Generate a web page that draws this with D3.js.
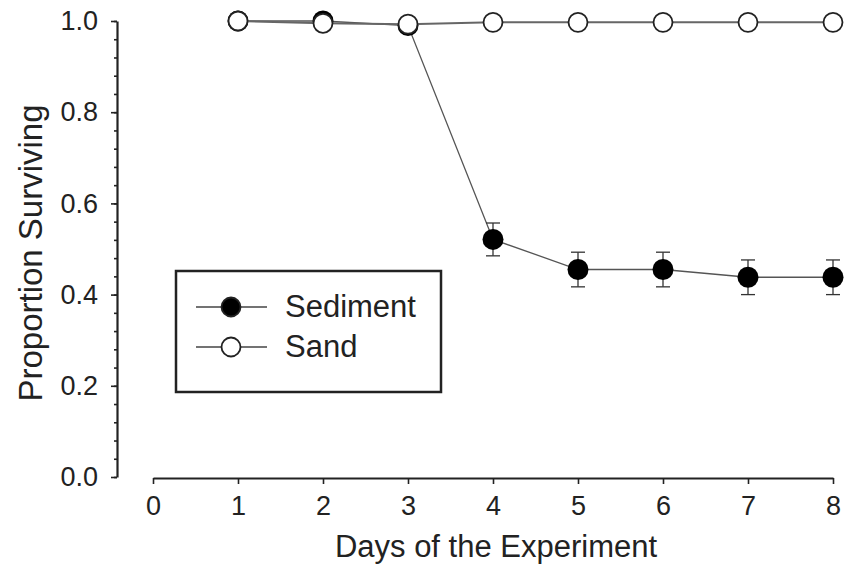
<!DOCTYPE html>
<html>
<head>
<meta charset="utf-8">
<script src="https://cdn.jsdelivr.net/npm/d3@7"></script>
<style>
  body { margin: 0; background: #fff; }
  svg { display: block; }
  text { font-family: "Liberation Sans", Arial, sans-serif; fill: #222; }
</style>
</head>
<body>
<script>
// data
var days = [1, 2, 3, 4, 5, 6, 7, 8];
var sediment = [1.0, 1.0, 0.99, 0.521, 0.455, 0.455, 0.438, 0.438];
var sedimentErr = [0, 0, 0, 0.036, 0.038, 0.038, 0.038, 0.038];
var sand = [1.0, 0.995, 0.993, 0.997, 0.997, 0.997, 0.997, 0.997];
var xTicks = [0, 1, 2, 3, 4, 5, 6, 7, 8];
var yTicks = [0, 0.2, 0.4, 0.6, 0.8, 1.0];
var seriesNames = ["Sediment", "Sand"];

var W = 844, H = 567;

var svg = d3.select("body").append("svg")
  .attr("width", W)
  .attr("height", H);

// scales
var x = d3.scaleLinear().domain([0, 8]).range([153, 833]);
var y = d3.scaleLinear().domain([0, 1]).range([477, 21]);

// y axis (major + minor ticks)
svg.append("g")
  .attr("transform", "translate(117,0)")
  .call(d3.axisLeft(y).tickValues(yTicks).tickSize(6).tickSizeOuter(0)
    .tickPadding(13).tickFormat(d3.format(".1f")));

svg.append("g")
  .attr("transform", "translate(117,0)")
  .call(d3.axisLeft(y).tickValues(d3.range(0, 1.001, 0.04)).tickSize(3)
    .tickSizeOuter(0).tickFormat(""))
  .select(".domain").remove();

// x axis
svg.append("g")
  .attr("transform", "translate(0,478)")
  .call(d3.axisBottom(x).tickValues(xTicks).tickSize(6).tickSizeOuter(0)
    .tickPadding(12));

svg.selectAll(".domain").attr("stroke", "#222").attr("stroke-width", 2.2);
svg.selectAll(".tick line").attr("stroke", "#222").attr("stroke-width", 1.6);
svg.selectAll(".tick text")
  .attr("font-size", "27px")
  .attr("font-family", "'Liberation Sans', Arial, sans-serif")
  .attr("fill", "#222");

// axis titles
svg.append("text")
  .attr("x", 496)
  .attr("y", 557)
  .attr("text-anchor", "middle")
  .attr("font-size", "31px")
  .text("Days of the Experiment");

svg.append("text")
  .attr("transform", "translate(42,253) rotate(-90)")
  .attr("text-anchor", "middle")
  .attr("font-size", "33px")
  .text("Proportion Surviving");

var line = d3.line()
  .x(function(d) { return x(d[0]); })
  .y(function(d) { return y(d[1]); });

// Sediment series
var sedData = days.map(function(d, i) { return [d, sediment[i], sedimentErr[i]]; });

svg.append("path")
  .datum(sedData)
  .attr("d", line)
  .attr("fill", "none")
  .attr("stroke", "#555")
  .attr("stroke-width", 1.3);

var errs = svg.append("g").selectAll("g")
  .data(sedData.filter(function(d) { return d[2] > 0; }))
  .enter().append("g")
  .attr("stroke", "#333")
  .attr("stroke-width", 1.3);

errs.append("line")
  .attr("x1", function(d) { return x(d[0]); })
  .attr("x2", function(d) { return x(d[0]); })
  .attr("y1", function(d) { return y(d[1] - d[2]); })
  .attr("y2", function(d) { return y(d[1] + d[2]); });

errs.append("line")
  .attr("x1", function(d) { return x(d[0]) - 7; })
  .attr("x2", function(d) { return x(d[0]) + 7; })
  .attr("y1", function(d) { return y(d[1] + d[2]); })
  .attr("y2", function(d) { return y(d[1] + d[2]); });

errs.append("line")
  .attr("x1", function(d) { return x(d[0]) - 7; })
  .attr("x2", function(d) { return x(d[0]) + 7; })
  .attr("y1", function(d) { return y(d[1] - d[2]); })
  .attr("y2", function(d) { return y(d[1] - d[2]); });

svg.append("g").selectAll("circle")
  .data(sedData)
  .enter().append("circle")
  .attr("cx", function(d) { return x(d[0]); })
  .attr("cy", function(d) { return y(d[1]); })
  .attr("r", 10.5)
  .attr("fill", "#000");

// Sand series
var sandData = days.map(function(d, i) { return [d, sand[i]]; });

svg.append("path")
  .datum(sandData)
  .attr("d", line)
  .attr("fill", "none")
  .attr("stroke", "#666")
  .attr("stroke-width", 2);

svg.append("g").selectAll("circle")
  .data(sandData)
  .enter().append("circle")
  .attr("cx", function(d) { return x(d[0]); })
  .attr("cy", function(d) { return y(d[1]); })
  .attr("r", 9.5)
  .attr("fill", "#fff")
  .attr("stroke", "#222")
  .attr("stroke-width", 1.8);

// legend
var legend = svg.append("g");
legend.append("rect")
  .attr("x", 176)
  .attr("y", 271)
  .attr("width", 265)
  .attr("height", 121)
  .attr("fill", "#fff")
  .attr("stroke", "#222")
  .attr("stroke-width", 2.5);

var items = legend.selectAll("g.item")
  .data(seriesNames)
  .enter().append("g")
  .attr("class", "item")
  .attr("transform", function(d, i) { return "translate(0," + (307 + i * 40) + ")"; });

items.append("line")
  .attr("x1", 196).attr("x2", 267)
  .attr("y1", 0).attr("y2", 0)
  .attr("stroke", "#444")
  .attr("stroke-width", 1.5);

items.append("circle")
  .attr("cx", 231)
  .attr("cy", 0)
  .attr("r", 9.5)
  .attr("fill", function(d, i) { return i === 0 ? "#000" : "#fff"; })
  .attr("stroke", "#222")
  .attr("stroke-width", 1.8);

items.append("text")
  .attr("x", 285)
  .attr("y", 10)
  .attr("font-size", "31px")
  .text(function(d) { return d; });
</script>
</body>
</html>
